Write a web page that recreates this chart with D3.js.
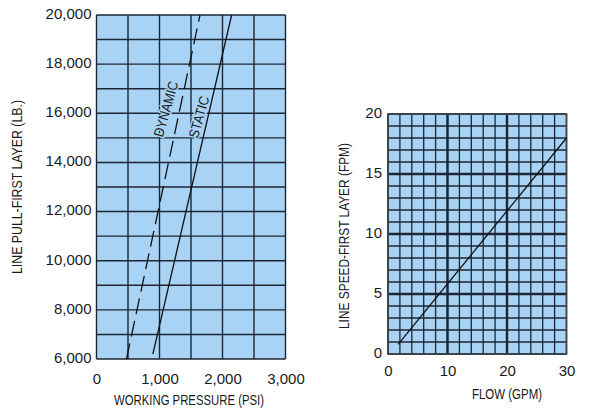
<!DOCTYPE html>
<meta charset="utf-8">
<style>
  body { margin: 0; background: #fff; }
  svg text { fill: #1a1a1a; }
  .tick-label { font: 15px "Liberation Sans", Arial, sans-serif; }
  .title { font: 15px "Liberation Sans", Arial, sans-serif; }
  .curve-label { font: 14px "Liberation Sans", Arial, sans-serif; }
</style>
<svg width="589" height="409"></svg>
<script src="https://d3js.org/d3.v7.min.js"></script>
<script>

// left chart: line pull vs working pressure
var pressureTicks = [0, 1000, 2000, 3000];
var pullTicks = [6000, 8000, 10000, 12000, 14000, 16000, 18000, 20000];
var dynamicLine = [[476, 6000], [1643, 20000]];
var staticLine = [[895, 6200], [2145, 20000]];

// right chart: line speed vs flow
var flowTicks = [0, 10, 20, 30];
var speedTicks = [0, 5, 10, 15, 20];
var speedLine = [[1.7, 0.8], [30, 18]];

var fill = "#a9d3f5",
    ink = "#1d2632";

var svg = d3.select("svg");

// condensed look: squeeze the text to the width seen in the scan
function squeeze(sel, w) {
  sel.attr("textLength", w).attr("lengthAdjust", "spacingAndGlyphs");
}

// ---------- left ----------
var x = d3.scaleLinear().domain([0, 3000]).range([96.5, 285.5]),
    y = d3.scaleLinear().domain([6000, 20000]).range([359, 15]);

var g1 = svg.append("g");

g1.append("rect")
    .attr("x", x(0)).attr("y", y(20000))
    .attr("width", x(3000) - x(0)).attr("height", y(6000) - y(20000))
    .attr("fill", fill);

g1.selectAll(".vx").data(d3.range(0, 3001, 500)).enter().append("line")
    .attr("x1", d => x(d)).attr("x2", d => x(d))
    .attr("y1", y(6000)).attr("y2", y(20000))
    .attr("stroke", ink).attr("stroke-width", 1.4);

g1.selectAll(".hy").data(d3.range(6000, 20001, 1000)).enter().append("line")
    .attr("y1", d => y(d)).attr("y2", d => y(d))
    .attr("x1", x(0)).attr("x2", x(3000))
    .attr("stroke", ink).attr("stroke-width", 1.4);

var line1 = d3.line().x(d => x(d[0])).y(d => y(d[1]));

g1.append("path").datum(dynamicLine)
    .attr("d", line1)
    .attr("fill", "none").attr("stroke", "#111").attr("stroke-width", 1.3)
    .attr("stroke-dasharray", "16,7");

g1.append("path").datum(staticLine)
    .attr("d", line1)
    .attr("fill", "none").attr("stroke", "#111").attr("stroke-width", 1.3);

// curve labels, with a knock-out halo like the original
function curveLabel(txt, px, lb, dx, w) {
  g1.append("text")
      .attr("class", "curve-label")
      .attr("transform", "translate(" + (x(px) + dx) + "," + y(lb) + ") rotate(-74)")
      .attr("text-anchor", "middle")
      .attr("dy", "0.35em")
      .attr("stroke", fill).attr("stroke-width", 3)
      .attr("paint-order", "stroke")
      .call(squeeze, w)
      .text(txt);
}
curveLabel("DYNAMIC", 1324, 16175, -14, 57);
curveLabel("STATIC", 1769, 15850, -9, 43);

var xAxis1 = g1.append("g")
    .attr("transform", "translate(0," + y(6000) + ")")
    .call(d3.axisBottom(x).tickValues(pressureTicks).tickSize(0).tickPadding(14).tickFormat(d3.format(",")));
var yAxis1 = g1.append("g")
    .attr("transform", "translate(" + x(0) + ",0)")
    .call(d3.axisLeft(y).tickValues(pullTicks).tickSize(0).tickPadding(5).tickFormat(d3.format(",")));
[xAxis1, yAxis1].forEach(function(a) {
  a.select(".domain").remove();
  a.selectAll("text").attr("class", "tick-label");
  a.attr("font-size", null).attr("font-family", null);
});
yAxis1.selectAll("text").attr("dy", "0.22em");

g1.append("text").attr("class", "title")
    .attr("x", 189).attr("y", 405).attr("text-anchor", "middle")
    .call(squeeze, 150)
    .text("WORKING PRESSURE (PSI)");
g1.append("text").attr("class", "title")
    .attr("transform", "translate(22,187) rotate(-90)").attr("text-anchor", "middle")
    .call(squeeze, 174)
    .text("LINE PULL-FIRST LAYER (LB.)");

// ---------- right ----------
var x2 = d3.scaleLinear().domain([0, 30]).range([388, 566.5]),
    y2 = d3.scaleLinear().domain([0, 20]).range([354, 114]);

var g2 = svg.append("g");

g2.append("rect")
    .attr("x", x2(0)).attr("y", y2(20))
    .attr("width", x2(30) - x2(0)).attr("height", y2(0) - y2(20))
    .attr("fill", fill);

g2.selectAll(".vx").data(d3.range(0, 31, 2)).enter().append("line")
    .attr("x1", d => x2(d)).attr("x2", d => x2(d))
    .attr("y1", y2(0)).attr("y2", y2(20))
    .attr("stroke", ink).attr("stroke-width", 1.3);
g2.selectAll(".hy").data(d3.range(0, 21, 1)).enter().append("line")
    .attr("y1", d => y2(d)).attr("y2", d => y2(d))
    .attr("x1", x2(0)).attr("x2", x2(30))
    .attr("stroke", ink).attr("stroke-width", 1.3);

// heavier major lines
g2.selectAll(".mx").data([10, 20]).enter().append("line")
    .attr("x1", d => x2(d)).attr("x2", d => x2(d))
    .attr("y1", y2(0)).attr("y2", y2(20))
    .attr("stroke", ink).attr("stroke-width", 2.4);
g2.selectAll(".my").data([5, 10, 15]).enter().append("line")
    .attr("y1", d => y2(d)).attr("y2", d => y2(d))
    .attr("x1", x2(0)).attr("x2", x2(30))
    .attr("stroke", ink).attr("stroke-width", 2.4);

g2.append("rect")
    .attr("x", x2(0)).attr("y", y2(20))
    .attr("width", x2(30) - x2(0)).attr("height", y2(0) - y2(20))
    .attr("fill", "none").attr("stroke", "#3a3f45").attr("stroke-width", 1.6);

var line2 = d3.line().x(d => x2(d[0])).y(d => y2(d[1]));
g2.append("path").datum(speedLine)
    .attr("d", line2)
    .attr("fill", "none").attr("stroke", "#111").attr("stroke-width", 1.3);

var xAxis2 = g2.append("g")
    .attr("transform", "translate(0," + y2(0) + ")")
    .call(d3.axisBottom(x2).tickValues(flowTicks).tickSize(0).tickPadding(11));
var yAxis2 = g2.append("g")
    .attr("transform", "translate(" + x2(0) + ",0)")
    .call(d3.axisLeft(y2).tickValues(speedTicks).tickSize(0).tickPadding(6));
[xAxis2, yAxis2].forEach(function(a) {
  a.select(".domain").remove();
  a.selectAll("text").attr("class", "tick-label");
  a.attr("font-size", null).attr("font-family", null);
});
yAxis2.selectAll("text").attr("dy", "0.22em");

g2.append("text").attr("class", "title")
    .attr("x", 507).attr("y", 399).attr("text-anchor", "middle")
    .call(squeeze, 70)
    .text("FLOW (GPM)");
g2.append("text").attr("class", "title")
    .attr("transform", "translate(349,236) rotate(-90)").attr("text-anchor", "middle")
    .call(squeeze, 186)
    .text("LINE SPEED-FIRST LAYER (FPM)");

</script>
